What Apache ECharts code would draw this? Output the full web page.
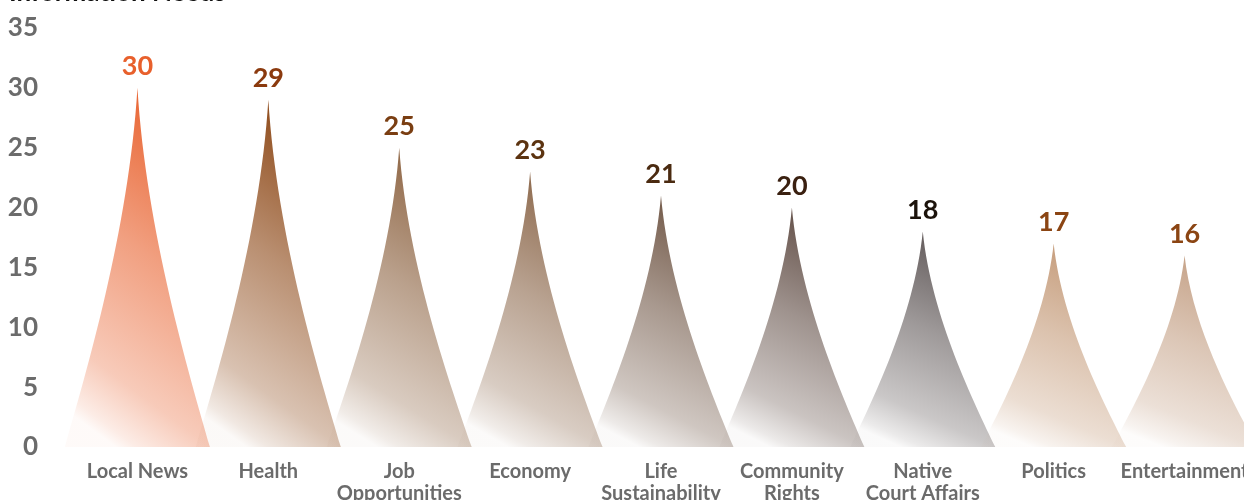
<!DOCTYPE html>
<html>
<head>
<meta charset="utf-8">
<title>Information Needs</title>
<script src="https://cdn.jsdelivr.net/npm/echarts@6/dist/echarts.min.js"></script>
<style>
  html, body { margin: 0; padding: 0; background: #ffffff; }
  #chart { width: 1244px; height: 500px; }
</style>
</head>
<body>
<div id="chart"></div>
<script>
// Survey results: share of respondents naming each information need
const categories = [
  'Local News', 'Health', 'Job\nOpportunities', 'Economy', 'Life\nSustainability',
  'Community\nRights', 'Native\nCourt Affairs', 'Politics', 'Entertainment'
];
const values = [30, 29, 25, 23, 21, 20, 18, 17, 16];
const yTicks = [0, 5, 10, 15, 20, 25, 30, 35];

// Spike fill colour (tip) and value-label colour for each category
const spikeColors = ['#E8602C', '#8B4513', '#8C6240', '#8A6548', '#6E5443', '#5F4B43', '#5E5656', '#C49A78', '#C4A085'];
const labelColors = ['#E8602C', '#8B3A0E', '#7A3E12', '#5C3310', '#4A2A10', '#3A2010', '#1C130B', '#8B4513', '#8B4513'];

function rgba(hex, a) {
  const n = parseInt(hex.slice(1), 16);
  return 'rgba(' + ((n >> 16) & 255) + ',' + ((n >> 8) & 255) + ',' + (n & 255) + ',' + a + ')';
}

// Fade from the tip down towards the bottom-left corner
function spikeGradient(hex) {
  return new echarts.graphic.LinearGradient(0.65, 0, 0.35, 1, [
    { offset: 0, color: rgba(hex, 1) },
    { offset: 0.45, color: rgba(hex, 0.6) },
    { offset: 0.82, color: rgba(hex, 0.33) },
    { offset: 0.96, color: rgba(hex, 0.12) },
    { offset: 1, color: rgba(hex, 0.03) }
  ]);
}

const FONT = 'Lato, "Open Sans", sans-serif';
const SPIKE = 'path://M0,10 L10,10 C8.6,8 5.6,4 5,0 C4.4,4 1.4,8 0,10 z';

const chart = echarts.init(document.getElementById('chart'), null, { renderer: 'canvas' });

chart.setOption({
  animation: false,
  backgroundColor: '#ffffff',
  title: {
    text: 'Information Needs',
    left: 4,
    top: -25,
    textStyle: { fontFamily: FONT, fontWeight: 'bold', fontSize: 26, color: '#111111' }
  },
  grid: { left: 72, right: -6, top: 28, bottom: 53, outerBoundsMode: 'none', containLabel: false },
  xAxis: {
    type: 'category',
    data: categories,
    axisLine: { show: false },
    axisTick: { show: false },
    axisLabel: {
      interval: 0,
      margin: 14,
      fontFamily: FONT,
      fontWeight: 'bold',
      fontSize: 20,
      lineHeight: 22,
      color: '#6B6B6B'
    },
    splitLine: { show: false }
  },
  yAxis: {
    type: 'value',
    min: yTicks[0],
    max: yTicks[yTicks.length - 1],
    interval: yTicks[1] - yTicks[0],
    axisLine: { show: false },
    axisTick: { show: false },
    splitLine: { show: false },
    axisLabel: {
      margin: 34,
      fontFamily: FONT,
      fontWeight: 'bold',
      fontSize: 26,
      color: '#6B6B6B'
    }
  },
  series: [{
    type: 'pictorialBar',
    symbol: SPIKE,
    symbolSize: [145, '100%'],
    barCategoryGap: '0%',
    data: values.map((v, i) => ({
      value: v,
      itemStyle: { color: spikeGradient(spikeColors[i]) },
      label: { color: labelColors[i] }
    })),
    label: {
      show: true,
      position: 'top',
      distance: 8,
      fontFamily: FONT,
      fontWeight: 'bold',
      fontSize: 27
    }
  }]
});
</script>
</body>
</html>
